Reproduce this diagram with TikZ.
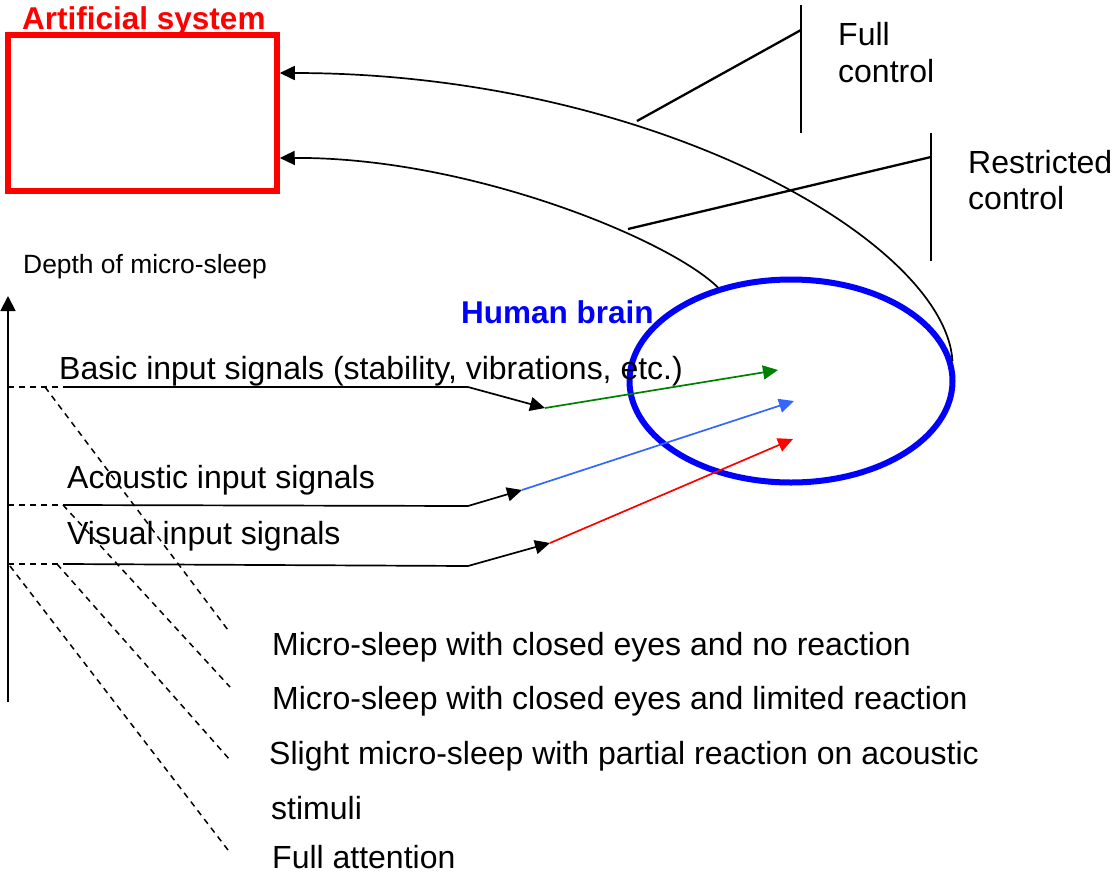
\documentclass[tikz,border=0pt]{standalone}
\usepackage{fontspec}
\setmainfont{Liberation Sans}
\usetikzlibrary{arrows.meta,shapes.geometric}

\definecolor{sigblue}{RGB}{51,102,255}
\definecolor{sigred}{RGB}{255,0,0}
\definecolor{siggreen}{RGB}{0,128,0}

\begin{document}
\begin{tikzpicture}[x=1pt,y=-1pt,
  lbl/.style={font=\fontsize{32}{38}\selectfont, anchor=base west, inner sep=0pt},
  ttl/.style={font=\fontsize{31.5}{38}\selectfont\bfseries, anchor=base west, inner sep=0pt},
  small/.style={font=\fontsize{26.4}{32}\selectfont, anchor=base west, inner sep=0pt},
  link/.style={line width=1.7pt},
  tip/.style={-{Triangle[length=15pt,width=14pt]}},
  dashline/.style={line width=1.5pt, dash pattern=on 6pt off 5pt},
  brk/.style={line width=2.3pt}]
\useasboundingbox (0,0) rectangle (1112,876);

% main blocks
\node[draw=red, line width=5.5pt, minimum width=269pt, minimum height=156pt, inner sep=0pt] (sys) at (142.5,113) {};
\node[ttl, text=red] (systitle) at (22,29) {Artificial system};

\node[draw=blue, ellipse, line width=6pt, minimum width=323pt, minimum height=203pt, inner sep=0pt] (brain) at (791,381) {};
\node[ttl, text=blue] (braintitle) at (461,323) {Human brain};

% control paths from the brain back to the system
\coordinate (in1) at ([yshift=40pt]sys.east);
\coordinate (in2) at ([yshift=-45pt]sys.east);
\draw[link, tip] (brain.7) .. controls (945,240) and (650,73) .. (in1);
\draw[link, tip] (brain.128) .. controls (670,240) and (470,157) .. (in2);

% control brackets
\coordinate (fctop) at (801,5);
\coordinate (fcbot) at (801,133);
\coordinate (fcmid) at (801,30);
\coordinate (fcfoot) at (637,121);
\draw[brk] (fctop) -- (fcbot);
\draw[brk] (fcmid) -- (fcfoot);
\node[lbl] (full1) at (838,45) {Full};
\node[lbl] (full2) at (838,82) {control};

\coordinate (rctop) at (931,133);
\coordinate (rcbot) at (931,261);
\coordinate (rcmid) at (931,157);
\coordinate (rcfoot) at (628,229);
\draw[brk] (rctop) -- (rcbot);
\draw[brk] (rcmid) -- (rcfoot);
\node[lbl] (res1) at (968,173) {Restricted};
\node[lbl] (res2) at (968,209) {control};

% depth axis
\coordinate (axbot) at (8,702);
\coordinate (axtop) at (8,296);
\draw[line width=1.8pt, -{Triangle[length=15pt,width=15pt]}] (axbot) -- (axtop);
\node[small] (depth) at (23,273) {Depth of micro-sleep};

% input signal levels
\coordinate (b0) at (8,387);   \coordinate (b1) at (65,387);
\coordinate (b2) at (468,387); \coordinate (b3) at (545,408);
\coordinate (b4) at (778,370);
\coordinate (a0) at (8,505);   \coordinate (a1) at (65,505);
\coordinate (a2) at (468,506); \coordinate (a3) at (522,490);
\coordinate (a4) at (794,401);
\coordinate (v0) at (8,564);   \coordinate (v1) at (65,564);
\coordinate (v2) at (468,566); \coordinate (v3) at (550,543);
\coordinate (v4) at (793,439);

\draw[dashline] (b0) -- (b1);
\draw[dashline] (a0) -- (a1);
\draw[dashline] (v0) -- (v1);
\draw[link] (b1) -- (b2);
\draw[link] (a1) -- (a2);
\draw[link] (v1) -- (v2);
\draw[link, tip] (b2) -- (b3);
\draw[link, tip] (a2) -- (a3);
\draw[link, tip] (v2) -- (v3);
\draw[link, siggreen, tip] (b3) -- (b4);
\draw[link, sigblue, tip] (a3) -- (a4);
\draw[link, sigred, tip] (v3) -- (v4);

\node[lbl] (basic) at (59,379) {Basic input signals (stability, vibrations, etc.)};
\node[lbl] (acoustic) at (67,488) {Acoustic input signals};
\node[lbl] (visual) at (67,544) {Visual input signals};

% sleep depth levels
\coordinate (d1s) at (45,387);  \coordinate (d1e) at (228,630);
\coordinate (d2s) at (63,505);  \coordinate (d2e) at (230,687);
\coordinate (d3s) at (57,564);  \coordinate (d3e) at (230,760);
\coordinate (d4s) at (10,566);  \coordinate (d4e) at (228,850);
\draw[dashline] (d1s) -- (d1e);
\draw[dashline] (d2s) -- (d2e);
\draw[dashline] (d3s) -- (d3e);
\draw[dashline] (d4s) -- (d4e);

\node[lbl] (lv1) at (272,655) {Micro-sleep with closed eyes and no reaction};
\node[lbl] (lv2) at (272,709) {Micro-sleep with closed eyes and limited reaction};
\node[lbl] (lv3) at (269,764) {Slight micro-sleep with partial reaction on acoustic};
\node[lbl] (lv3b) at (271,819) {stimuli};
\node[lbl] (lv4) at (272,868) {Full attention};
\end{tikzpicture}
\end{document}
